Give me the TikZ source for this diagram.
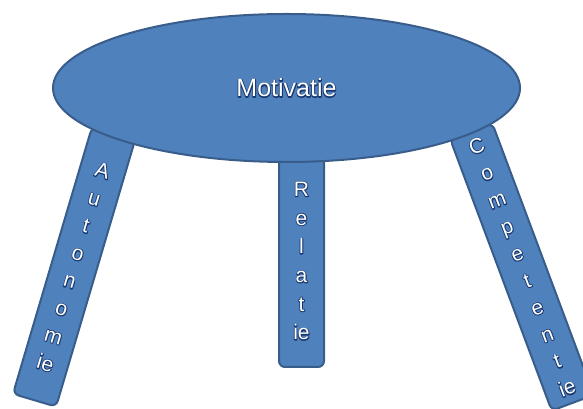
\documentclass[tikz,border=0pt]{standalone}
\usepackage{fontspec}
\setmainfont{Liberation Sans}
\usetikzlibrary{shapes.geometric}
\definecolor{cfill}{HTML}{4F81BD}
\definecolor{cline}{HTML}{385D8A}
% white letters on a dark blue stroked copy
\newcommand{\gl}[1]{\rlap{\special{pdf:literal direct 0.09 0.216 0.431 RG 1 Tr 1.7 w 1 j}#1\special{pdf:literal direct 0 Tr}}#1}
\tikzset{
  every picture/.style={x=1pt, y=1pt, line width=2pt},
  leg/.style={draw=cline, fill=cfill, rounded corners=6pt, minimum width=45pt, inner sep=0pt, align=center,
    text=white, font=\fontsize{21}{28.7}\selectfont},
  seat/.style={ellipse, draw=cline, fill=cfill, minimum width=467pt, minimum height=148pt,
    text=white, font=\fontsize{25}{28}\selectfont},
}
\begin{document}
\begin{tikzpicture}
  \clip (0,0) rectangle (583,409);
  % the three legs
  \node[leg, rotate=-16.5, minimum height=278pt] (autonomie) at (74,142)
    {\gl{A}\\\gl{u}\\\gl{t}\\\gl{o}\\\gl{n}\\\gl{o}\\\gl{m}\\\gl{ie}};
  \node[leg, minimum height=212pt] (relatie) at (301.5,148)
    {\gl{R}\\\gl{e}\\\gl{l}\\\gl{a}\\\gl{t}\\\gl{ie}};
  \node[leg, rotate=20.5, minimum height=290pt] (competentie) at (522,142)
    {\gl{C}\\\gl{o}\\\gl{m}\\\gl{p}\\\gl{e}\\\gl{t}\\\gl{e}\\\gl{n}\\\gl{t}\\\gl{ie}};
  % seat on top
  \node[seat] (motivatie) at (286.5,321) {\gl{Motivatie}};
\end{tikzpicture}
\end{document}
